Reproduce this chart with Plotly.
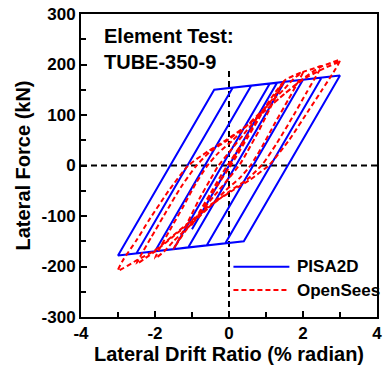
import plotly.graph_objects as go

# PISA2D: bilinear hysteresis, corner points of the loops (drift %, force kN)
pisa_drift = [0.0, 1.0, -1.0, 1.3, 1.5, -1.1, -1.5, 1.1, 1.5, 2.0, -0.6, -2.0,
              0.6, 2.0, 2.5, -0.1, -2.5, 0.1, 2.5, 3.0, 0.4, -3.0, -0.4, 3.0]
pisa_force = [0, 126, -126, 164, 166, -162, -166, 162, 166, 170, -158, -170,
              158, 170, 174, -154, -174, 154, 174, 178, -150, -178, 150, 178]

# OpenSees: smooth hysteresis loops, cycle by cycle
os_drift = [
    0.0, 0.5, 0.75, 1.0,
    0.8, 0.5, 0.2, 0.0, -0.3, -0.7, -1.0,
    -0.8, -0.5, -0.2, 0.0, 0.3, 0.7, 1.0,
    1.25, 1.5,
    1.35, 1.1, 0.8, 0.5, 0.3, 0.0, -0.4, -0.8, -1.2, -1.5,
    -1.35, -1.1, -0.8, -0.5, -0.3, 0.0, 0.4, 0.8, 1.2, 1.5,
    1.75, 2.0,
    1.9, 1.6, 1.25, 0.9, 0.6, 0.3, -0.1, -0.5, -1.0, -1.5, -1.75, -2.0,
    -1.9, -1.6, -1.25, -0.9, -0.6, -0.3, 0.1, 0.5, 1.0, 1.5, 1.75, 2.0,
    2.25, 2.5,
    2.4, 2.1, 1.75, 1.3, 0.9, 0.5, 0.0, -0.5, -1.0, -1.5, -2.0, -2.25, -2.5,
    -2.4, -2.1, -1.75, -1.3, -0.9, -0.5, 0.0, 0.5, 1.0, 1.5, 2.0, 2.25, 2.5,
    2.75, 3.0,
    2.87, 2.5, 2.16, 1.63, 1.1, 0.57, 0.13, -0.5, -1.0, -1.5, -2.0, -2.5, -3.0,
    -2.87, -2.5, -2.16, -1.63, -1.1, -0.57, -0.13, 0.5, 1.0, 1.5, 2.0, 2.5, 3.0,
]
os_force = [
    0, 60, 88, 118,
    92, 55, 18, -5, -38, -82, -118,
    -92, -55, -18, 5, 38, 82, 118,
    145, 168,
    148, 112, 68, 28, 3, -25, -60, -96, -132, -165,
    -146, -110, -66, -27, -2, 26, 62, 98, 134, 168,
    178, 185,
    170, 130, 85, 38, 2, -24, -50, -80, -115, -150, -170, -184,
    -168, -128, -83, -36, -2, 24, 50, 80, 116, 152, 172, 185,
    191, 197,
    183, 145, 100, 45, 2, -27, -52, -80, -110, -140, -170, -183, -195,
    -180, -142, -98, -43, -2, 28, 52, 80, 110, 142, 172, 185, 196,
    203, 209,
    190, 148, 110, 51, 2, -28, -48, -78, -108, -138, -168, -188, -208,
    -188, -148, -108, -50, 0, 28, 48, 80, 110, 142, 170, 190, 206,
]

x_ticks = [-4, -2, 0, 2, 4]
y_ticks = [-300, -200, -100, 0, 100, 200, 300]
series_names = ["PISA2D", "OpenSees"]
note_lines = ["Element Test:", "TUBE-350-9"]

FONT = "Liberation Sans, Arial, sans-serif"
BLUE = "#0000ff"
RED = "#ff0000"

fig = go.Figure()
fig.add_trace(go.Scatter(x=pisa_drift, y=pisa_force, mode="lines",
                         name=series_names[0],
                         line=dict(color=BLUE, width=2), showlegend=False))
fig.add_trace(go.Scatter(x=os_drift, y=os_force, mode="lines",
                         name=series_names[1],
                         line=dict(color=RED, width=2, dash="5px,3px",
                                   shape="spline", smoothing=0.6),
                         showlegend=False))

# dashed zero axes
fig.add_shape(type="line", x0=0, x1=0, y0=-300, y1=190, xref="x", yref="y",
              line=dict(color="black", width=2, dash="6px,4px"), layer="below")
fig.add_shape(type="line", x0=-4, x1=4, y0=0, y1=0, xref="x", yref="y",
              line=dict(color="black", width=2, dash="6px,4px"), layer="below")

# hand-placed legend
leg_x0, leg_x1, leg_tx = 0.515, 0.704, 0.722
leg_rows = [0.166, 0.089]
leg_styles = [dict(color=BLUE, width=2), dict(color=RED, width=2, dash="5px,3px")]
for name, yy, st in zip(series_names, leg_rows, leg_styles):
    fig.add_shape(type="line", xref="paper", yref="paper",
                  x0=leg_x0, x1=leg_x1, y0=yy, y1=yy, line=st)
    fig.add_annotation(xref="paper", yref="paper", x=leg_tx, y=yy, text=name,
                       showarrow=False, xanchor="left", yanchor="middle",
                       font=dict(family=FONT, size=17, color="black", weight="bold"))

fig.add_annotation(xref="paper", yref="paper", x=0.07, y=0.97,
                   text="<br>".join(note_lines), showarrow=False,
                   xanchor="left", yanchor="top", align="left",
                   font=dict(family=FONT, size=20, color="black", weight="bold"))

axis_common = dict(showgrid=False, zeroline=False, showline=True, linewidth=2,
                   linecolor="black", mirror=True, ticks="inside", ticklen=6,
                   tickwidth=2, tickcolor="black",
                   tickfont=dict(family=FONT, size=17, color="black", weight="bold"))

fig.update_xaxes(range=[-4, 4], tickvals=x_ticks,
                 ticktext=[str(v) for v in x_ticks],
                 ticklabeloverflow="allow",
                 minor=dict(dtick=1, ticks="inside", ticklen=5, tickwidth=2,
                            tickcolor="black"),
                 title=dict(text="Lateral Drift Ratio (% radian)", standoff=4,
                            font=dict(family=FONT, size=20, color="black",
                                      weight="bold")),
                 **axis_common)
fig.update_yaxes(range=[-300, 300], tickvals=y_ticks,
                 ticktext=[str(v) for v in y_ticks],
                 minor=dict(dtick=50, ticks="inside", ticklen=5, tickwidth=2,
                            tickcolor="black"),
                 title=dict(text="Lateral Force (kN)", standoff=6,
                            font=dict(family=FONT, size=20, color="black",
                                      weight="bold")),
                 **axis_common)

fig.update_layout(width=383, height=367, margin=dict(l=81, r=1, t=14, b=50),
                  paper_bgcolor="white", plot_bgcolor="white",
                  showlegend=False)

fig.write_html("out.html")
